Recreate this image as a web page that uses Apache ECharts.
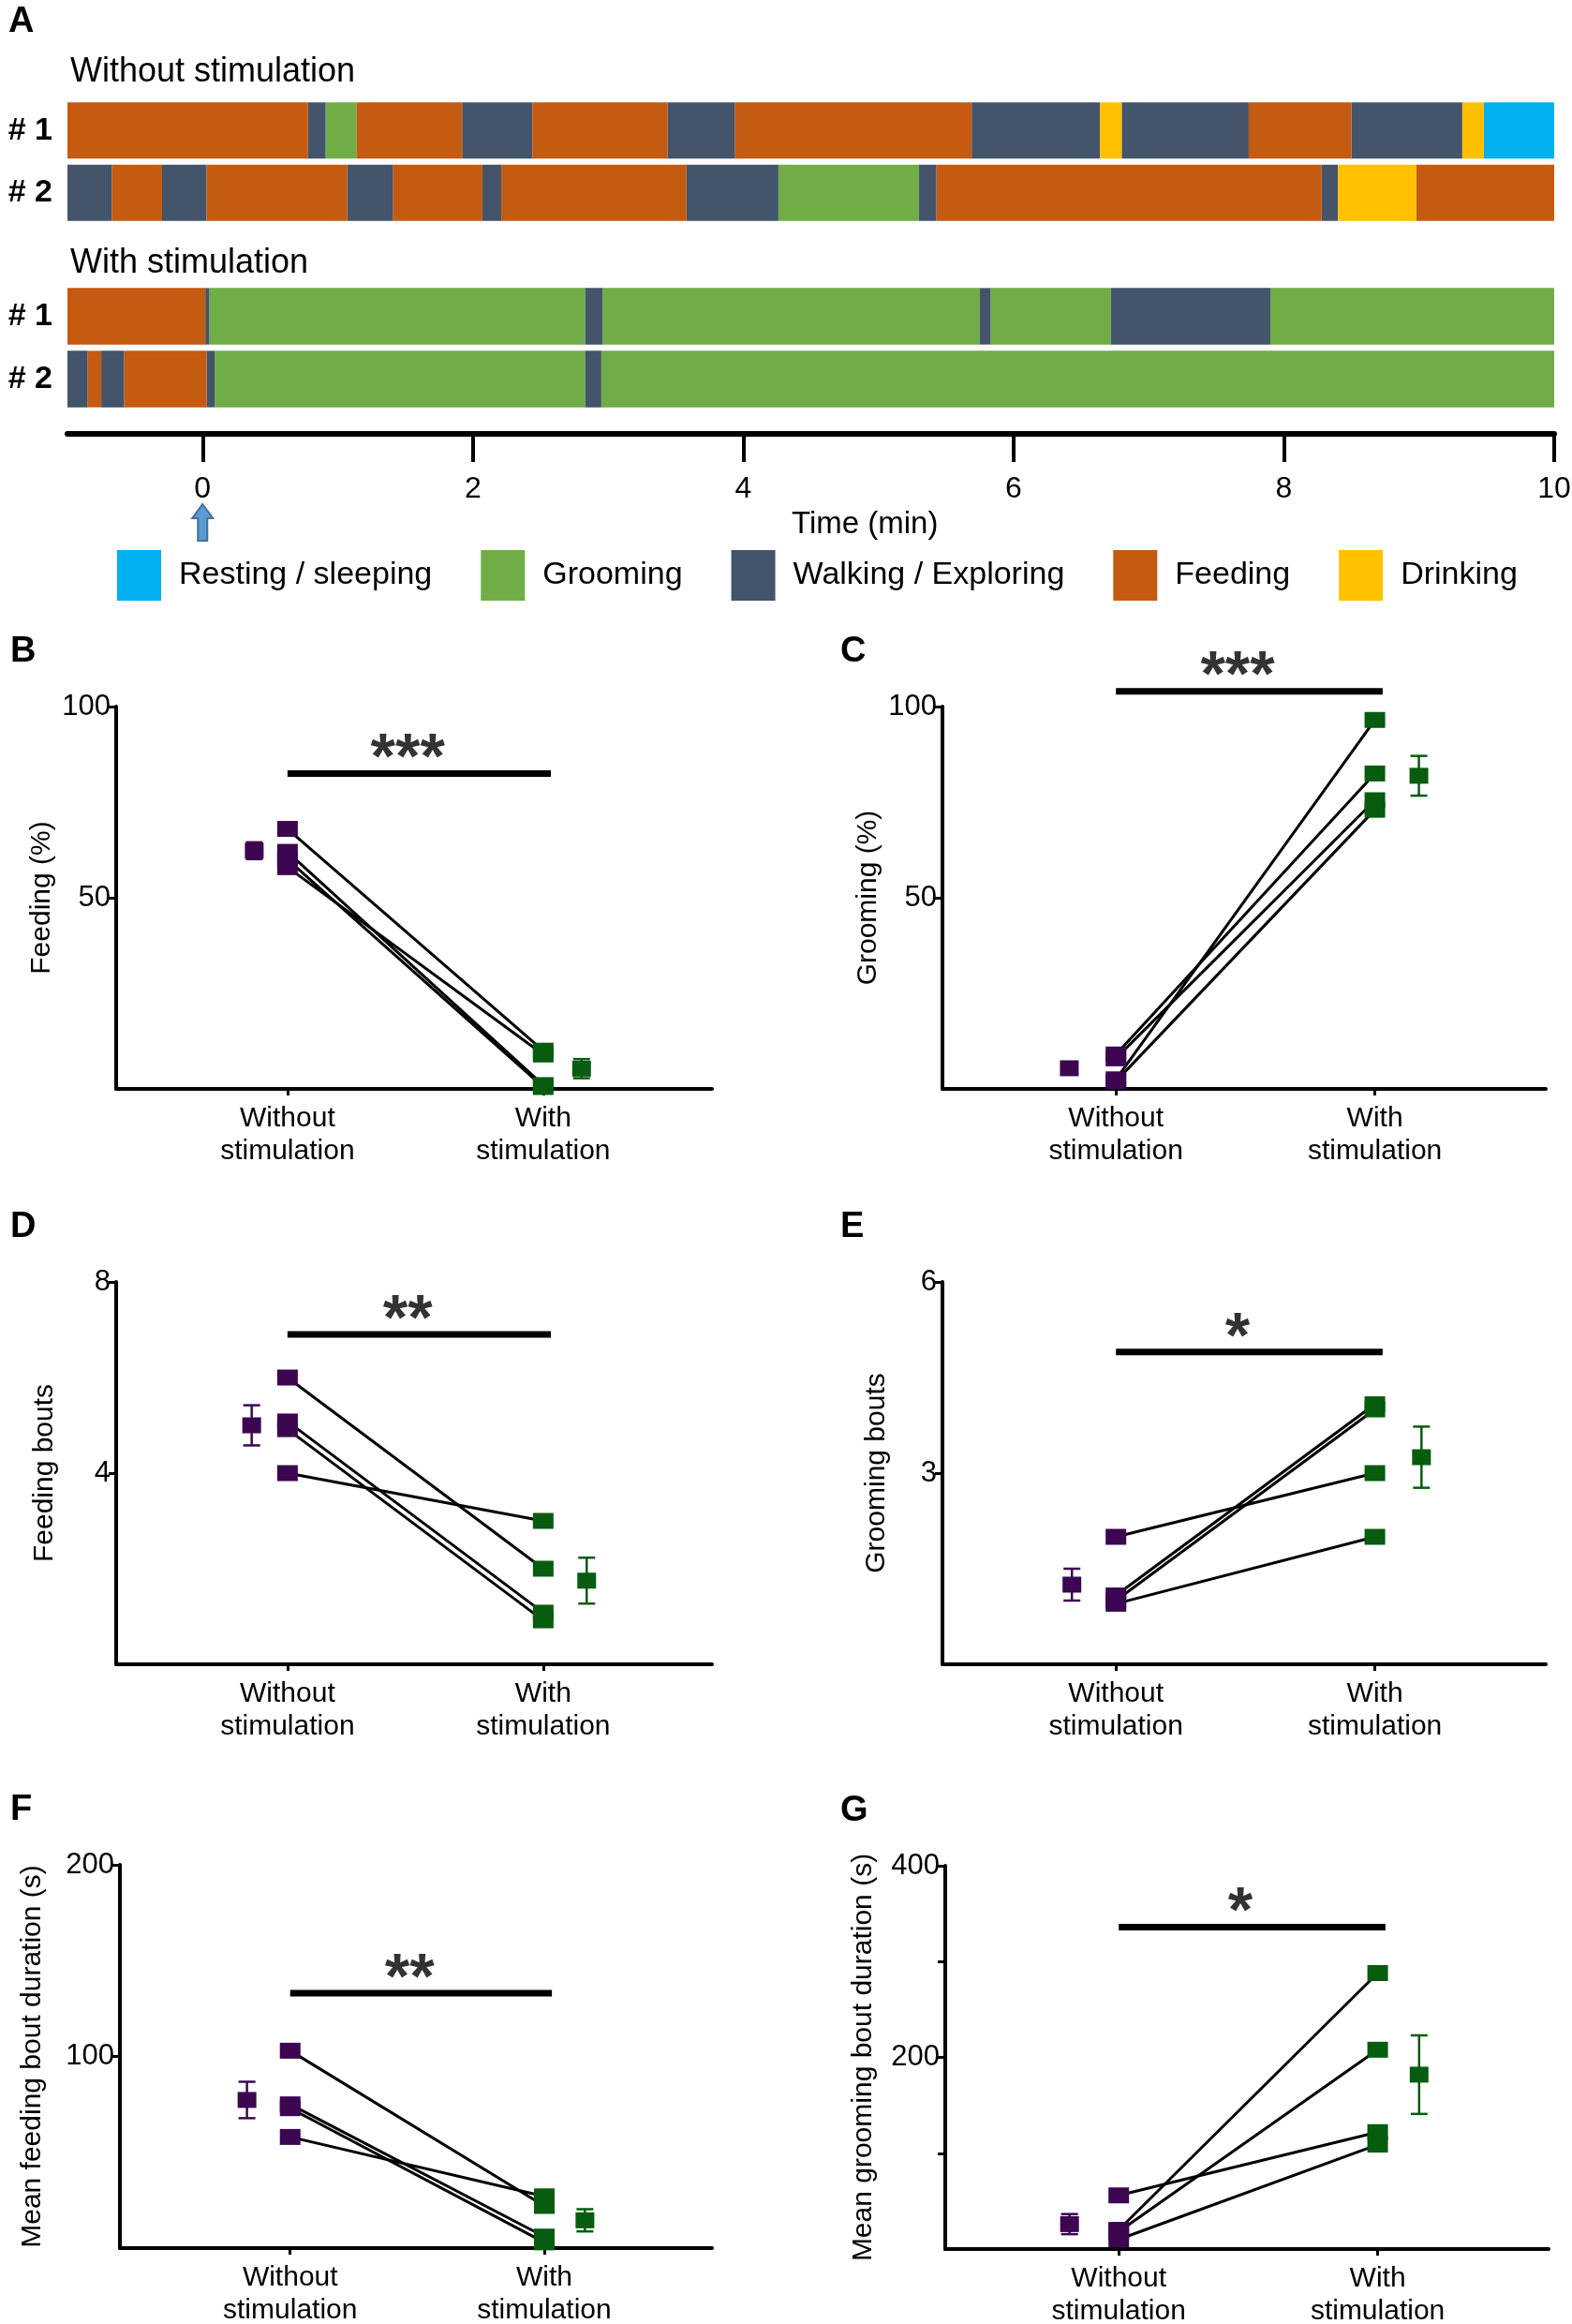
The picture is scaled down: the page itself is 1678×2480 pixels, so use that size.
<!DOCTYPE html>
<html>
<head>
<meta charset="utf-8">
<script src="https://cdn.jsdelivr.net/npm/echarts@6.0.0/dist/echarts.min.js"></script>
<style>
  html, body { margin: 0; padding: 0; background: #fff; }
  #chart { width: 1678px; height: 2480px; }
</style>
</head>
<body>
<div id="chart"></div>
<script>
// ---- panel A : ethogram ----
var behaviors = ['Resting / sleeping', 'Grooming', 'Walking / Exploring', 'Feeding', 'Drinking'];
var behaviorColors = ['#00B0F0', '#70AD47', '#44546A', '#C55A11', '#FFC000'];
var rowLabels = ['# 1', '# 2'];
var timeTicks = [0, 2, 4, 6, 8, 10];

// [behaviour index, start (min), end (min)]
var withoutStim1 = [[3, -1, 0.78], [2, 0.78, 0.91], [1, 0.91, 1.14], [3, 1.14, 1.92], [2, 1.92, 2.44],
  [3, 2.44, 3.44], [2, 3.44, 3.94], [3, 3.94, 5.69], [2, 5.69, 6.64], [4, 6.64, 6.80], [2, 6.80, 7.74],
  [3, 7.74, 8.50], [2, 8.50, 9.32], [4, 9.32, 9.48], [0, 9.48, 10]];
var withoutStim2 = [[2, -1, -0.67], [3, -0.67, -0.30], [2, -0.30, 0.03], [3, 0.03, 1.07], [2, 1.07, 1.41],
  [3, 1.41, 2.07], [2, 2.07, 2.21], [3, 2.21, 3.58], [2, 3.58, 4.26], [1, 4.26, 5.30], [2, 5.30, 5.43],
  [3, 5.43, 8.28], [2, 8.28, 8.40], [4, 8.40, 8.98], [3, 8.98, 10]];
var withStim1 = [[3, -1, 0.02], [2, 0.02, 0.05], [1, 0.05, 2.83], [2, 2.83, 2.96], [1, 2.96, 5.75],
  [2, 5.75, 5.83], [1, 5.83, 6.72], [2, 6.72, 7.90], [1, 7.90, 10]];
var withStim2 = [[2, -1, -0.85], [3, -0.85, -0.75], [2, -0.75, -0.58], [3, -0.58, 0.03], [2, 0.03, 0.09],
  [1, 0.09, 2.83], [2, 2.83, 2.95], [1, 2.95, 10]];

// ---- panels B-G : paired values per mouse ----
var groupNames = ['Without\nstimulation', 'With\nstimulation'];

var feedPctOff = [68, 62, 60, 58];
var feedPctOn = [10, 1, 0.5, 9];
var feedPctMean = [62.3, 5.3];
var feedPctSem = [2.2, 2.5];

var groomPctOff = [9, 8, 2.5, 2];
var groomPctOn = [82.5, 75.5, 96.5, 73];
var groomPctMean = [5.4, 81.9];
var groomPctSem = [1.5, 5.2];

var feedBoutsOff = [6, 5.08, 4.92, 4];
var feedBoutsOn = [2, 1.08, 0.92, 3];
var feedBoutsMean = [5.0, 1.75];
var feedBoutsSem = [0.42, 0.48];

var groomBoutsOff = [2, 1.08, 1.0, 0.95];
var groomBoutsOn = [3, 4.08, 4.0, 2];
var groomBoutsMean = [1.25, 3.25];
var groomBoutsSem = [0.25, 0.48];

var feedDurOff = [103, 75, 73, 58];
var feedDurOn = [22, 6, 3, 27];
var feedDurMean = [77.3, 14.5];
var feedDurSem = [9.5, 5.8];

var groomDurOff = [56, 20, 18, 10];
var groomDurOn = [122, 288, 208, 109];
var groomDurMean = [26, 182];
var groomDurSem = [10.5, 41];

var purple = '#3d0650';
var green = '#075c0f';
var font = "'Liberation Sans', Arial, sans-serif";

var panels = [
  { letter: 'B', yName: 'Feeding (%)', off: feedPctOff, on: feedPctOn, mean: feedPctMean, sem: feedPctSem,
    max: 100, labels: [50, 100], ticks: [50, 100], star: '***', sigY: 82.5,
    left: 124, top: 754, width: 636, nameGap: 64, shift: [-0.13, 0.15] },
  { letter: 'C', yName: 'Grooming (%)', off: groomPctOff, on: groomPctOn, mean: groomPctMean, sem: groomPctSem,
    max: 100, labels: [50, 100], ticks: [50, 100], star: '***', sigY: 104,
    left: 1006, top: 754, width: 644, nameGap: 64, shift: [-0.18, 0.17] },
  { letter: 'D', yName: 'Feeding bouts', off: feedBoutsOff, on: feedBoutsOn, mean: feedBoutsMean, sem: feedBoutsSem,
    max: 8, labels: [4, 8], ticks: [4, 8], star: '**', sigY: 6.9,
    left: 124, top: 1368, width: 636, nameGap: 61, shift: [-0.14, 0.17] },
  { letter: 'E', yName: 'Grooming bouts', off: groomBoutsOff, on: groomBoutsOn, mean: groomBoutsMean, sem: groomBoutsSem,
    max: 6, labels: [3, 6], ticks: [3, 6], star: '*', sigY: 4.9,
    left: 1006, top: 1368, width: 644, nameGap: 55, shift: [-0.17, 0.18] },
  { letter: 'F', yName: 'Mean feeding bout duration (s)', off: feedDurOff, on: feedDurOn, mean: feedDurMean, sem: feedDurSem,
    max: 200, labels: [100, 200], ticks: [100, 200], star: '**', sigY: 133,
    left: 128, top: 1990, width: 632, nameGap: 78, shift: [-0.17, 0.16] },
  { letter: 'G', yName: 'Mean grooming bout duration (s)', off: groomDurOff, on: groomDurOn, mean: groomDurMean, sem: groomDurSem,
    max: 400, labels: [200, 400], ticks: [100, 200, 300, 400], star: '*', sigY: 336,
    left: 1009, top: 1991, width: 644, nameGap: 72, shift: [-0.19, 0.16] }
];

var chart = echarts.init(document.getElementById('chart'));

function segmentItem(params, api) {
  var a = api.coord([api.value(0), api.value(2)]);
  var b = api.coord([api.value(1), api.value(2)]);
  var h = api.size([0, 1])[1] * 0.9;
  return {
    type: 'rect',
    shape: { x: a[0], y: a[1] - h / 2, width: b[0] - a[0], height: h },
    style: api.style()
  };
}

function errorBarItem(params, api) {
  var x = api.value(0), m = api.value(1), s = api.value(2);
  var hi = api.coord([x, m + s]);
  var lo = api.coord([x, m - s]);
  var w = 9;
  var st = { stroke: api.visual('color'), lineWidth: 2.5, fill: null };
  return {
    type: 'group',
    children: [
      { type: 'line', shape: { x1: hi[0], y1: hi[1], x2: lo[0], y2: lo[1] }, style: st },
      { type: 'line', shape: { x1: hi[0] - w, y1: hi[1], x2: hi[0] + w, y2: hi[1] }, style: st },
      { type: 'line', shape: { x1: lo[0] - w, y1: lo[1], x2: lo[0] + w, y2: lo[1] }, style: st }
    ]
  };
}

var grids = [
  { left: 72, top: 106, width: 1587, height: 133, outerBoundsMode: 'none' },
  { left: 72, top: 304, width: 1587, height: 134, outerBoundsMode: 'none' }
];
var xAxes = [
  { gridIndex: 0, type: 'value', min: -1, max: 10, show: false },
  { gridIndex: 1, type: 'value', min: -1, max: 10, offset: 25, position: 'bottom',
    axisLine: { show: true, onZero: false, lineStyle: { color: '#000', width: 6 } },
    axisTick: { show: true, customValues: timeTicks, length: 30, lineStyle: { color: '#000', width: 4 } },
    axisLabel: { customValues: timeTicks, color: '#000', fontSize: 32, margin: 43, fontFamily: font },
    splitLine: { show: false } }
];
var yAxes = [0, 1].map(function (g) {
  return { gridIndex: g, type: 'category', data: rowLabels, inverse: true,
    axisLine: { show: false }, axisTick: { show: false },
    axisLabel: { color: '#000', fontSize: 34, fontWeight: 'bold', margin: 16, fontFamily: font } };
});

var series = [];
[[withoutStim1, withoutStim2], [withStim1, withStim2]].forEach(function (rows, g) {
  behaviors.forEach(function (name, b) {
    var data = [];
    rows.forEach(function (segs, r) {
      segs.forEach(function (s) {
        if (s[0] === b) data.push([s[1], s[2], r]);
      });
    });
    series.push({
      type: 'custom', name: name, xAxisIndex: g, yAxisIndex: g,
      renderItem: segmentItem, encode: { x: [0, 1], y: 2 },
      itemStyle: { color: behaviorColors[b] }, data: data
    });
  });
});

var titles = [
  { text: 'A', left: 4, top: 0 },
  { text: 'Without stimulation', left: 70, top: 54, textStyle: { fontSize: 36, fontWeight: 'normal' } },
  { text: 'With stimulation', left: 70, top: 258, textStyle: { fontSize: 36, fontWeight: 'normal' } },
  { text: 'Time (min)', left: 840, top: 538, textStyle: { fontSize: 33, fontWeight: 'normal' } }
];

panels.forEach(function (p, i) {
  var gi = i + 2;
  grids.push({ left: p.left, top: p.top, width: p.width, height: p.top > 1900 ? 409 : 408, outerBoundsMode: 'none' });
  titles.push({ text: p.letter, left: p.left < 500 ? 6 : 892, top: p.top - 82 });
  xAxes.push({
    gridIndex: gi, type: 'value', min: 0.33, max: 2.66,
    axisLine: { show: true, onZero: false, lineStyle: { color: '#000', width: 4 } },
    axisTick: { show: true, customValues: [1, 2], length: 7, lineStyle: { color: '#000', width: 3 } },
    axisLabel: { customValues: [1, 2], color: '#000', fontSize: 30, lineHeight: 35, margin: 14, fontFamily: font,
      formatter: function (v) { return groupNames[Math.round(v) - 1]; } },
    splitLine: { show: false }
  });
  yAxes.push({
    gridIndex: gi, type: 'value', min: 0, max: p.max,
    axisLine: { show: true, onZero: false, lineStyle: { color: '#000', width: 4 } },
    axisTick: { show: true, customValues: p.ticks, length: 8, lineStyle: { color: '#000', width: 3 } },
    axisLabel: { customValues: p.labels, color: '#000', fontSize: 31, margin: 6, fontFamily: font },
    splitLine: { show: false },
    name: p.yName, nameLocation: 'middle', nameGap: p.nameGap,
    nameTextStyle: { color: '#000', fontSize: 30, fontFamily: font }
  });

  // paired lines
  p.off.forEach(function (v, k) {
    series.push({ type: 'line', xAxisIndex: gi, yAxisIndex: gi, symbol: 'none', z: 2,
      lineStyle: { color: '#000', width: 3 }, data: [[1, v], [2, p.on[k]]] });
  });
  series.push({ type: 'scatter', xAxisIndex: gi, yAxisIndex: gi, symbol: 'rect', symbolSize: [22, 17], z: 3,
    itemStyle: { color: purple, opacity: 1 }, data: p.off.map(function (v) { return [1, v]; }) });
  series.push({ type: 'scatter', xAxisIndex: gi, yAxisIndex: gi, symbol: 'rect', symbolSize: [22, 17], z: 3,
    itemStyle: { color: green, opacity: 1 }, data: p.on.map(function (v) { return [2, v]; }) });

  // mean +- sem beside each group
  [purple, green].forEach(function (c, k) {
    var x = k + 1 + p.shift[k];
    series.push({ type: 'custom', xAxisIndex: gi, yAxisIndex: gi, renderItem: errorBarItem, z: 3,
      encode: { x: 0, y: 1 }, itemStyle: { color: c }, data: [[x, p.mean[k], p.sem[k]]] });
    series.push({ type: 'scatter', xAxisIndex: gi, yAxisIndex: gi, symbol: 'rect', symbolSize: [20, 17], z: 4,
      itemStyle: { color: c, opacity: 1 }, data: [[x, p.mean[k]]] });
  });

  // significance bar
  series.push({ type: 'line', xAxisIndex: gi, yAxisIndex: gi, symbol: 'none', clip: false, z: 2,
    lineStyle: { color: '#000', width: 7 }, data: [[1, p.sigY], [2.03, p.sigY]] });
  series.push({ type: 'scatter', xAxisIndex: gi, yAxisIndex: gi, symbolSize: 0, clip: false, z: 2,
    label: { show: true, position: 'inside', offset: [0, -14], formatter: p.star, color: '#000',
      fontSize: 68, fontWeight: 'bold', fontFamily: font },
    data: [[1.47, p.sigY]] });
});

titles.forEach(function (t) {
  t.textStyle = Object.assign({ fontSize: 38, fontWeight: 'bold', color: '#000', fontFamily: font }, t.textStyle || {});
});

var option = {
  animation: false,
  backgroundColor: '#fff',
  textStyle: { fontFamily: font },
  title: titles,
  legend: {
    data: behaviors, left: 120, top: 582, icon: 'rect',
    itemWidth: 47, itemHeight: 54, itemGap: 52,
    textStyle: { color: '#000', fontSize: 34, fontFamily: font, padding: [0, 0, 0, 14] }
  },
  grid: grids,
  xAxis: xAxes,
  yAxis: yAxes,
  series: series
};
chart.setOption(option);

// stimulation onset arrow under t = 0
var x0 = chart.convertToPixel({ xAxisIndex: 1 }, 0);
chart.setOption({
  graphic: [{
    type: 'polygon',
    shape: { points: [[x0, 538], [x0 + 11, 553], [x0 + 5, 553], [x0 + 5, 577], [x0 - 5, 577], [x0 - 5, 553], [x0 - 11, 553]] },
    style: { fill: '#5B9BD5', stroke: '#41719C', lineWidth: 2 }
  }]
});
</script>
</body>
</html>
